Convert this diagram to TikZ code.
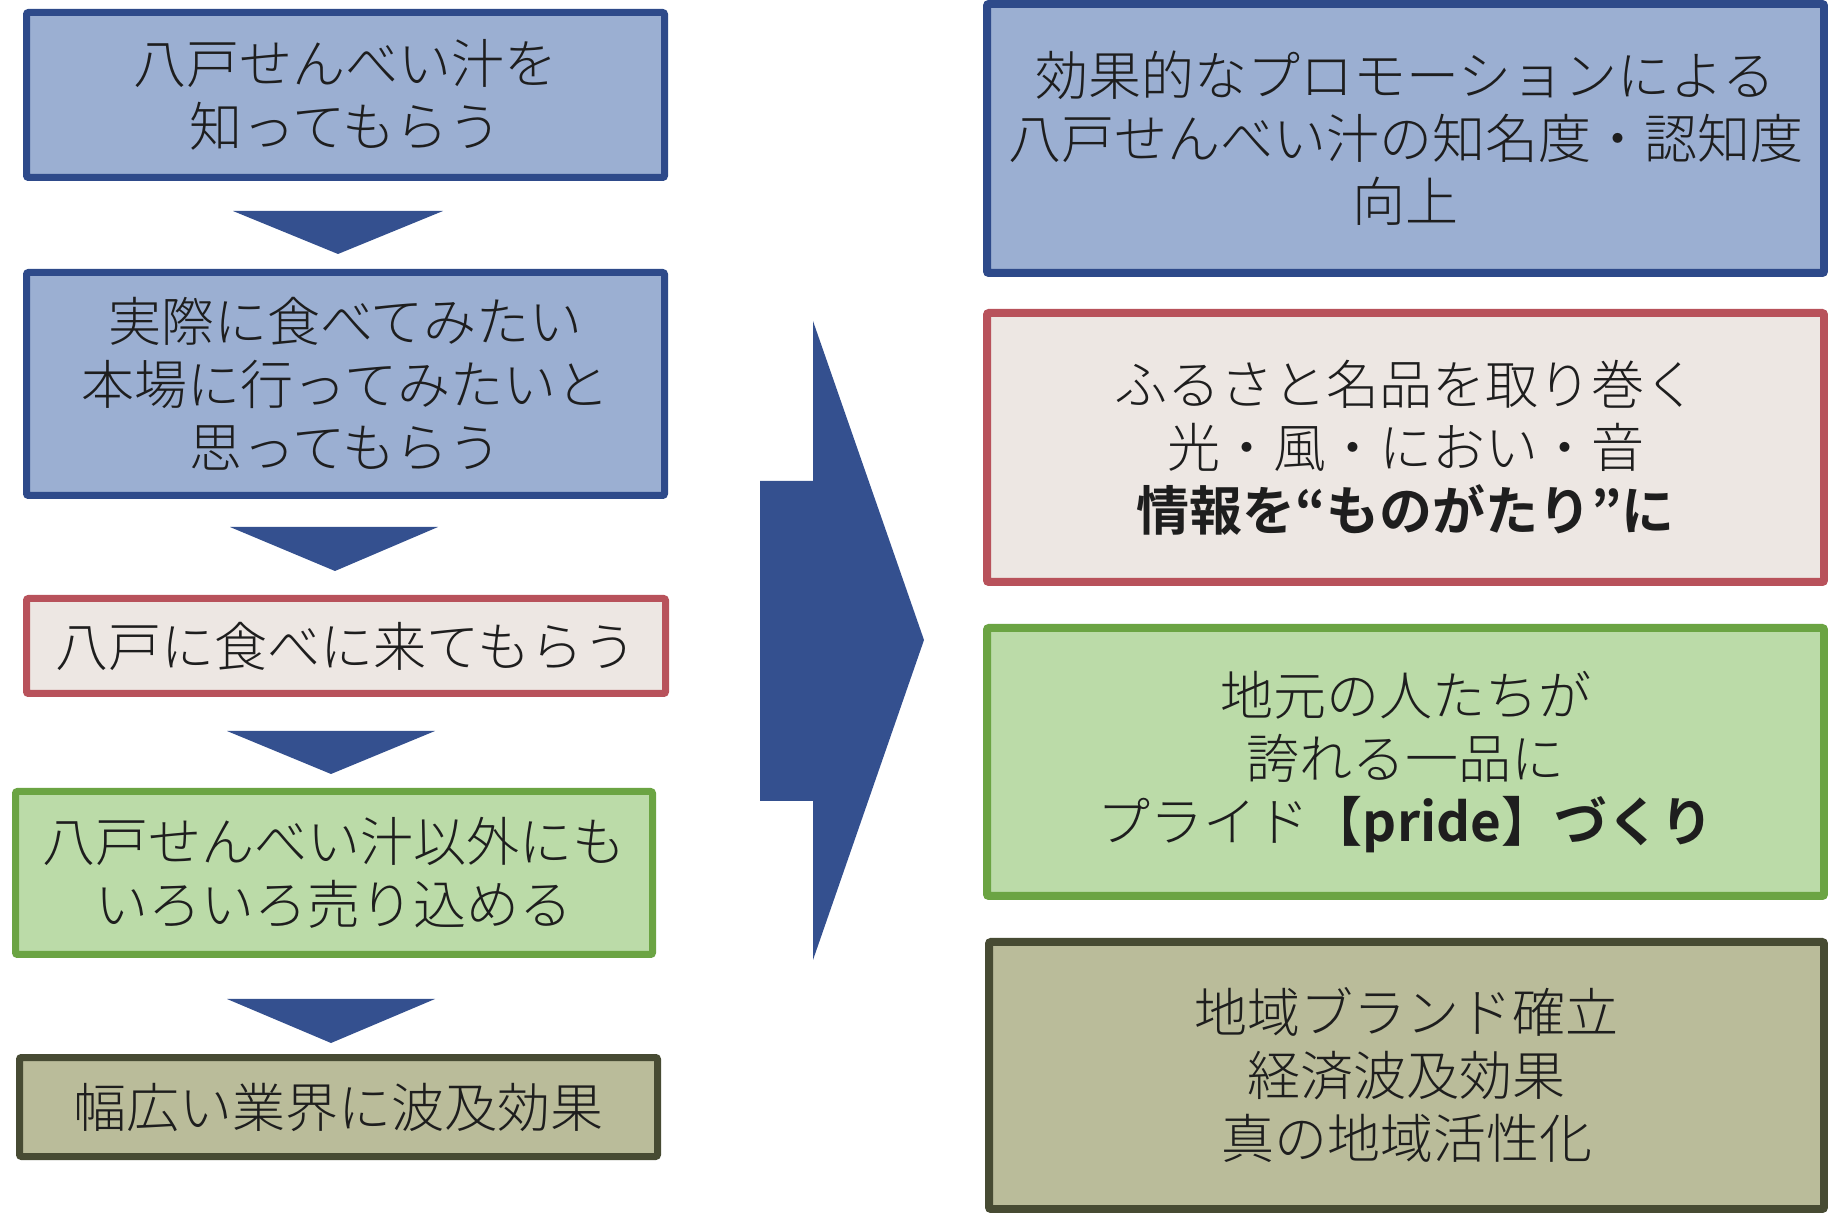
\documentclass[tikz,border=0pt]{standalone}
\usepackage{fontspec}
\setmainfont{Noto Sans CJK JP}[UprightFont=* Light, BoldFont=* Bold]
\definecolor{bluefill}{HTML}{9BAFD2}
\definecolor{blueline}{HTML}{2E4A8A}
\definecolor{redfill}{HTML}{EDE7E3}
\definecolor{redline}{HTML}{B8525B}
\definecolor{greenfill}{HTML}{BBDBA8}
\definecolor{greenline}{HTML}{6BA443}
\definecolor{olivefill}{HTML}{BABC9A}
\definecolor{oliveline}{HTML}{474B33}
\definecolor{arrowblue}{HTML}{34508F}
\definecolor{txt}{HTML}{1E1E1E}
\tikzset{
  box/.style={rectangle, rounded corners=1pt, line width=3.5pt, align=center,
    text=txt, inner sep=0pt, outer sep=0pt,
    font=\fontsize{26.5pt}{31.5pt}\selectfont},
  bigbox/.style={box, line width=4pt},
  bluebox/.style={fill=bluefill, draw=blueline},
  redbox/.style={fill=redfill, draw=redline},
  greenbox/.style={fill=greenfill, draw=greenline},
  olivebox/.style={fill=olivefill, draw=oliveline},
  downtri/.style={fill=arrowblue, draw=none},
}
\begin{document}
\begin{tikzpicture}[x=0.5pt,y=-0.5pt]
\fill[white] (0,0) rectangle (1828,1213);
\useasboundingbox (0,0) rectangle (1828,1213);

% left column
\node[box,bluebox,minimum width=319pt,minimum height=82.5pt] (b1) at (345.5,95)
  {八戸せんべい汁を\\知ってもらう};
\node[box,bluebox,minimum width=319pt,minimum height=111.5pt] (b2) at (345.5,384)
  {実際に食べてみたい\\本場に行ってみたいと\\思ってもらう};
\node[box,redbox,minimum width=319.5pt,minimum height=47.5pt] (b3) at (346,646)
  {八戸に食べに来てもらう};
\node[box,greenbox,minimum width=318.5pt,minimum height=81.5pt] (b4) at (334,873)
  {八戸せんべい汁以外にも\\いろいろ売り込める};
\node[box,olivebox,minimum width=319pt,minimum height=49.5pt] (b5) at (338.5,1107)
  {幅広い業界に波及効果};

% down triangles
\fill[downtri] (233,211) -- (443,211) -- (338,254) -- cycle;
\fill[downtri] (230,527) -- (438,527) -- (335,571) -- cycle;
\fill[downtri] (227,731) -- (435,731) -- (331,774) -- cycle;
\fill[downtri] (227,999) -- (435,999) -- (331,1043) -- cycle;

% big arrow
\fill[arrowblue] (760,481) -- (813,481) -- (813,321) -- (924,640) -- (813,960)
  -- (813,801) -- (760,801) -- cycle;

% right column
\node[bigbox,bluebox,minimum width=418.5pt,minimum height=134.5pt] (r1) at (1405.5,138.5)
  {効果的なプロモーションによる\\八戸せんべい汁の知名度・認知度\\向上};
\node[bigbox,redbox,minimum width=418.5pt,minimum height=134.5pt] (r2) at (1405.5,447.5)
  {ふるさと名品を取り巻く\\光・風・におい・音\\\textbf{情報を“ものがたり”に}};
\node[bigbox,greenbox,minimum width=418.5pt,minimum height=134pt] (r3) at (1405.5,762)
  {地元の人たちが\\誇れる一品に\\プライド\textbf{【pride】づくり}};
\node[bigbox,olivebox,minimum width=417.5pt,minimum height=133.5pt] (r4) at (1406.5,1075.5)
  {地域ブランド確立\\経済波及効果\\真の地域活性化};
\end{tikzpicture}
\end{document}
